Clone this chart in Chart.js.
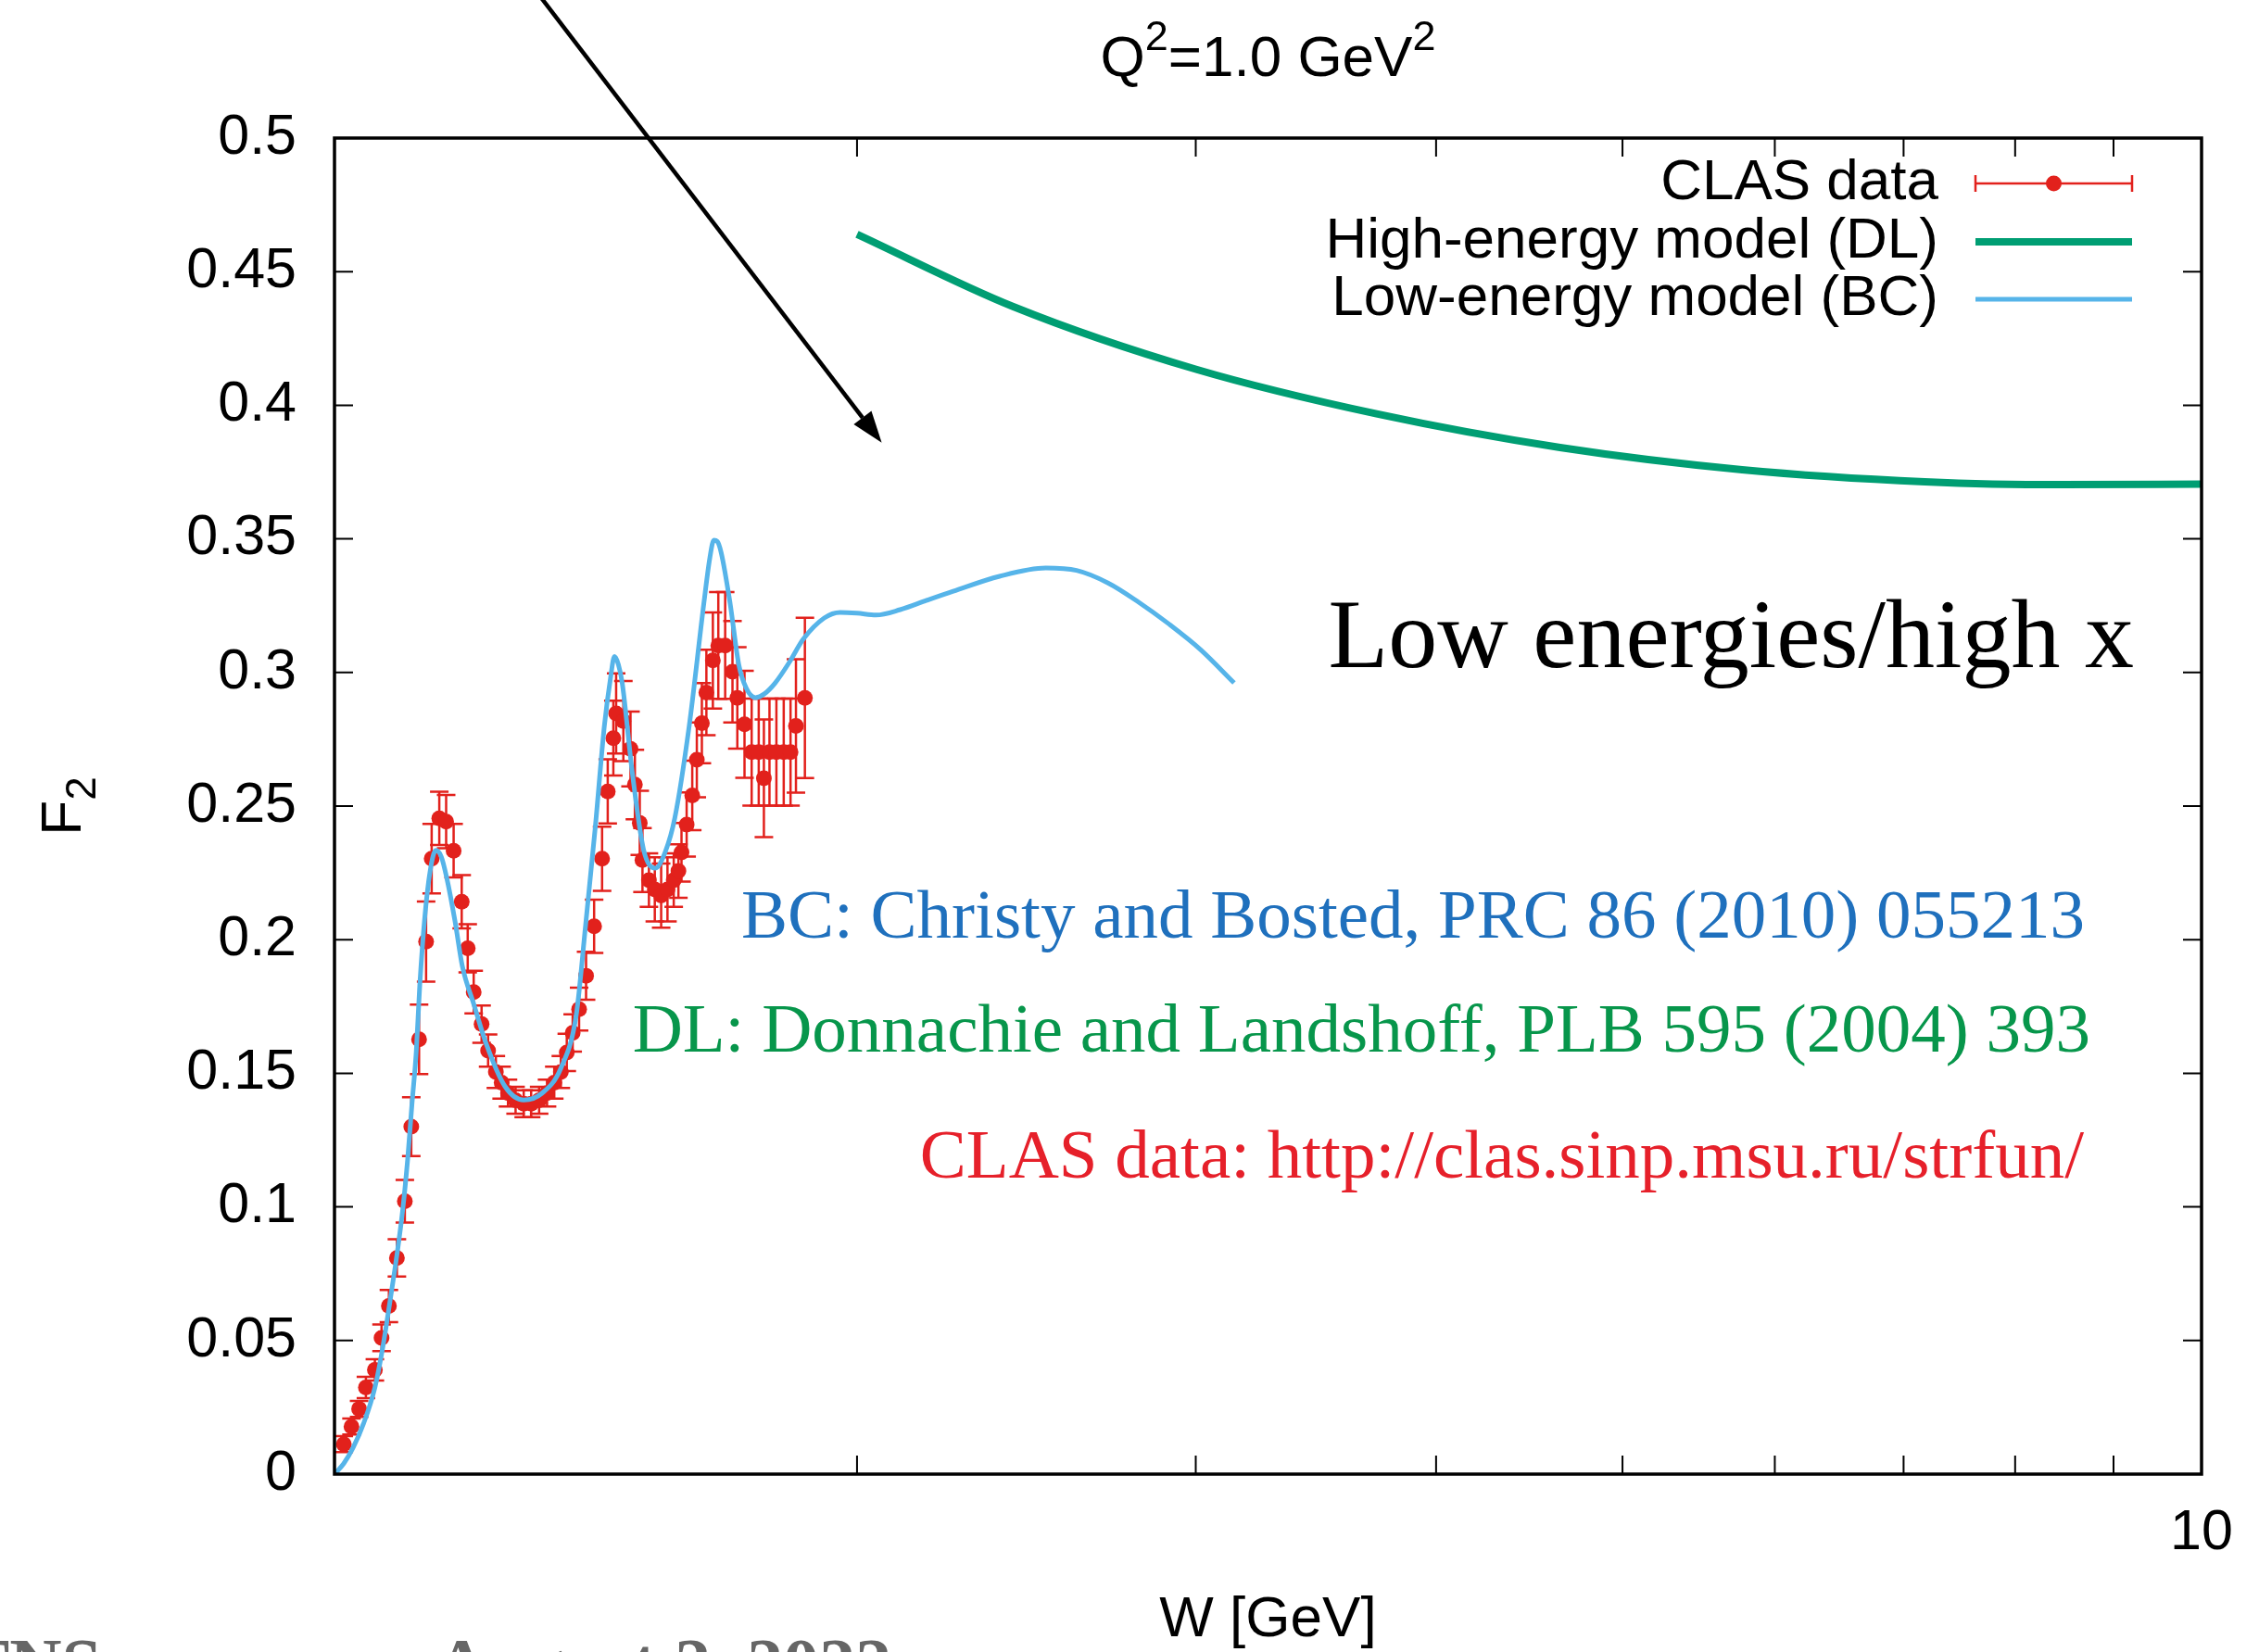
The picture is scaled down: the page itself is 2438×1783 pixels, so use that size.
<!DOCTYPE html>
<html>
<head>
<meta charset="utf-8">
<title>F2 at Q2 = 1.0 GeV2</title>
<script src="https://cdn.jsdelivr.net/npm/chart.js@4.4.0/dist/chart.umd.min.js"></script>
<style>
    html, body { margin: 0; padding: 0; background: #fff; }
    #wrap { position: relative; width: 2438px; height: 1783px; }
</style>
</head>
<body>
<div id="wrap">
    <canvas id="f2Chart" width="2438" height="1783"></canvas>
</div>
<script>
// Axis ticks
const xTicks = [2, 3, 4, 5, 6, 7, 8, 9, 10];
const xTickLabels = ['', '', '', '', '', '', '', '', '10'];
const yTicks = [0, 0.05, 0.1, 0.15, 0.2, 0.25, 0.3, 0.35, 0.4, 0.45, 0.5];
const yTickLabels = ['0', '0.05', '0.1', '0.15', '0.2', '0.25', '0.3', '0.35', '0.4', '0.45', '0.5'];

// CLAS data: W [GeV], F2 and its error
const clasW = [1.082, 1.092, 1.102, 1.111, 1.123, 1.132, 1.142, 1.153, 1.164, 1.173, 1.184, 1.194,
    1.202, 1.213, 1.223, 1.234, 1.246, 1.255, 1.264, 1.276, 1.286, 1.298, 1.307, 1.317,
    1.329, 1.342, 1.354, 1.367, 1.380, 1.392, 1.403, 1.413, 1.423, 1.434, 1.446, 1.460,
    1.474, 1.484, 1.494, 1.499, 1.512, 1.525, 1.533, 1.542, 1.547, 1.559, 1.570, 1.582,
    1.594, 1.606, 1.615, 1.621, 1.631, 1.642, 1.651, 1.661, 1.670, 1.683, 1.694, 1.708,
    1.723, 1.733, 1.748, 1.763, 1.778, 1.789, 1.801, 1.816, 1.832, 1.847, 1.859, 1.879];
const clasF2 = [0.0112, 0.0178, 0.0244, 0.0324, 0.039, 0.051, 0.0629, 0.0809, 0.1021, 0.130, 0.1627, 0.1993,
    0.2303, 0.2454, 0.2442, 0.2333, 0.2142, 0.1968, 0.1804, 0.1684, 0.1585, 0.1505, 0.1465, 0.1426,
    0.1399, 0.1386, 0.1386, 0.1399, 0.1426, 0.1465, 0.1505, 0.1578, 0.1651, 0.1740, 0.1865, 0.205,
    0.2303, 0.2555, 0.2754, 0.2847, 0.2818, 0.2714, 0.2581, 0.2437, 0.2298, 0.2223, 0.2188, 0.2165,
    0.2188, 0.2223, 0.2257, 0.2327, 0.2431, 0.254, 0.2673, 0.281, 0.2925, 0.3045, 0.3101, 0.3101,
    0.3003, 0.2905, 0.2806, 0.2702, 0.2702, 0.2604, 0.2702, 0.2702, 0.2702, 0.2702, 0.28, 0.2905];
const clasErr = [0.003, 0.003, 0.003, 0.004, 0.004, 0.005, 0.006, 0.007, 0.008, 0.011, 0.013, 0.015,
    0.013, 0.010, 0.010, 0.010, 0.010, 0.009, 0.008, 0.007, 0.006, 0.006, 0.006, 0.005,
    0.005, 0.005, 0.005, 0.005, 0.005, 0.006, 0.006, 0.007, 0.007, 0.008, 0.009, 0.010,
    0.012, 0.012, 0.014, 0.015, 0.015, 0.014, 0.013, 0.012, 0.012, 0.010, 0.012, 0.012,
    0.012, 0.010, 0.010, 0.011, 0.012, 0.013, 0.014, 0.015, 0.016, 0.018, 0.020, 0.020,
    0.019, 0.019, 0.020, 0.020, 0.020, 0.022, 0.020, 0.020, 0.020, 0.020, 0.025, 0.030];

// Low-energy model (BC)
const bcW = [1.07, 1.082, 1.094, 1.108, 1.123, 1.134, 1.144, 1.153, 1.161, 1.168, 1.174, 1.180,
    1.185, 1.192, 1.200, 1.208, 1.216, 1.224, 1.236, 1.247, 1.264, 1.283, 1.312, 1.342,
    1.372, 1.403, 1.429, 1.445, 1.462, 1.478, 1.489, 1.496, 1.503, 1.510, 1.528, 1.549,
    1.571, 1.590, 1.608, 1.636, 1.665, 1.677, 1.685, 1.692, 1.700, 1.718, 1.736, 1.752,
    1.771, 1.790, 1.813, 1.845, 1.875, 1.923, 1.960, 2.000, 2.046, 2.106, 2.174, 2.244,
    2.372, 2.507, 2.601, 2.701, 2.802, 2.907, 3.018, 3.141];
const bcF2 = [0, 0.004, 0.0098, 0.019, 0.0324, 0.048, 0.0656, 0.082, 0.0988, 0.118, 0.1386, 0.158,
    0.183, 0.208, 0.226, 0.2334, 0.231, 0.223, 0.207, 0.190, 0.176, 0.1611, 0.1452, 0.140,
    0.1426, 0.1519, 0.1717, 0.205, 0.242, 0.280, 0.298, 0.306, 0.303, 0.296, 0.263, 0.2337,
    0.2268, 0.233, 0.2455, 0.280, 0.326, 0.343, 0.3495, 0.349, 0.3447, 0.326, 0.303, 0.294,
    0.2906, 0.292, 0.296, 0.304, 0.3124, 0.3204, 0.3225, 0.3222, 0.3215, 0.3235, 0.327, 0.3304,
    0.336, 0.3391, 0.3382, 0.3335, 0.3263, 0.3180, 0.3085, 0.2961];

// High-energy model (DL)
const dlW = [2.0, 2.41, 3.0, 3.73, 4.64, 5.77, 7.18, 8.45, 10.0];
const dlF2 = [0.464, 0.437, 0.4135, 0.3967, 0.3842, 0.3759, 0.3714, 0.3703, 0.3705];

const RED = '#e2211c';
const GREEN = '#009e73';
const BLUE = '#56b4e9';
const SANS = '"Liberation Sans", Arial, sans-serif';
const SERIF = '"Liberation Serif", "Times New Roman", serif';

const toPoints = (xs, ys) => xs.map((v, i) => ({ x: v, y: ys[i] }));

// Error bars under the CLAS points
const errorBars = {
    id: 'errorBars',
    beforeDatasetsDraw(chart) {
        const { ctx, chartArea: a, scales: { x, y } } = chart;
        ctx.save();
        ctx.beginPath();
        ctx.rect(a.left, a.top, a.right - a.left, a.bottom - a.top);
        ctx.clip();
        ctx.strokeStyle = RED;
        ctx.lineWidth = 2.5;
        clasW.forEach((w, i) => {
            const px = x.getPixelForValue(w);
            const lo = y.getPixelForValue(clasF2[i] - clasErr[i]);
            const hi = y.getPixelForValue(clasF2[i] + clasErr[i]);
            ctx.beginPath();
            ctx.moveTo(px, lo); ctx.lineTo(px, hi);
            ctx.moveTo(px - 10, lo); ctx.lineTo(px + 10, lo);
            ctx.moveTo(px - 10, hi); ctx.lineTo(px + 10, hi);
            ctx.stroke();
        });
        ctx.restore();
    }
};

// Border box with inward ticks mirrored on all sides
const frame = {
    id: 'frame',
    afterDatasetsDraw(chart) {
        const { ctx, chartArea: a, scales: { x, y } } = chart;
        const len = 20;
        ctx.save();
        ctx.strokeStyle = '#000';
        ctx.lineWidth = 2;
        ctx.beginPath();
        x.ticks.forEach(t => {
            const px = x.getPixelForValue(t.value);
            ctx.moveTo(px, a.bottom); ctx.lineTo(px, a.bottom - len);
            ctx.moveTo(px, a.top); ctx.lineTo(px, a.top + len);
        });
        y.ticks.forEach(t => {
            const py = y.getPixelForValue(t.value);
            ctx.moveTo(a.left, py); ctx.lineTo(a.left + len, py);
            ctx.moveTo(a.right, py); ctx.lineTo(a.right - len, py);
        });
        ctx.stroke();
        ctx.lineWidth = 3.5;
        ctx.strokeRect(a.left, a.top, a.right - a.left, a.bottom - a.top);
        ctx.restore();
    }
};

// draws text pieces one after another (super/subscripts via dy), returns width
function runText(ctx, parts, x, y) {
    let cx = x;
    parts.forEach(p => {
        ctx.font = p.font;
        ctx.fillText(p.text, cx, y + (p.dy || 0));
        cx += ctx.measureText(p.text).width;
    });
    return cx - x;
}
function runWidth(ctx, parts) {
    return parts.reduce((s, p) => { ctx.font = p.font; return s + ctx.measureText(p.text).width; }, 0);
}

// Title, axis titles, key, annotations
const decor = {
    id: 'decor',
    afterDraw(chart) {
        const { ctx, chartArea: a, scales: { x, y } } = chart;
        const big = '62px ' + SANS;
        const small = '45px ' + SANS;
        ctx.save();
        ctx.fillStyle = '#000';
        ctx.textAlign = 'left';
        ctx.textBaseline = 'alphabetic';

        // title
        const title = [
            { text: 'Q', font: big }, { text: '2', font: small, dy: -28 },
            { text: '=1.0 GeV', font: big }, { text: '2', font: small, dy: -28 }
        ];
        const cx = (a.left + a.right) / 2;
        runText(ctx, title, cx - runWidth(ctx, title) / 2, 82);

        // x axis title
        ctx.font = big;
        ctx.textAlign = 'center';
        ctx.fillText('W [GeV]', cx, 1766);

        // y axis title
        ctx.save();
        ctx.translate(87, (a.top + a.bottom) / 2);
        ctx.rotate(-Math.PI / 2);
        ctx.textAlign = 'left';
        const yTitle = [{ text: 'F', font: big }, { text: '2', font: '46px ' + SANS, dy: 16 }];
        runText(ctx, yTitle, -runWidth(ctx, yTitle) / 2, 0);
        ctx.restore();

        // key
        const keyText = 2092, k0 = 2132, k1 = 2301;
        const rows = [198, 261, 323];
        ctx.font = big;
        ctx.textAlign = 'right';
        ctx.textBaseline = 'middle';
        ctx.fillText('CLAS data', keyText, rows[0]);
        ctx.fillText('High-energy model (DL)', keyText, rows[1]);
        ctx.fillText('Low-energy model (BC)', keyText, rows[2]);

        ctx.strokeStyle = RED;
        ctx.lineWidth = 2.5;
        ctx.beginPath();
        ctx.moveTo(k0, rows[0]); ctx.lineTo(k1, rows[0]);
        ctx.moveTo(k0, rows[0] - 9); ctx.lineTo(k0, rows[0] + 9);
        ctx.moveTo(k1, rows[0] - 9); ctx.lineTo(k1, rows[0] + 9);
        ctx.stroke();
        ctx.fillStyle = RED;
        ctx.beginPath();
        ctx.arc((k0 + k1) / 2, rows[0], 8.5, 0, Math.PI * 2);
        ctx.fill();

        ctx.lineWidth = 8;
        ctx.strokeStyle = GREEN;
        ctx.beginPath(); ctx.moveTo(k0, rows[1]); ctx.lineTo(k1, rows[1]); ctx.stroke();
        ctx.lineWidth = 5;
        ctx.strokeStyle = BLUE;
        ctx.beginPath(); ctx.moveTo(k0, rows[2]); ctx.lineTo(k1, rows[2]); ctx.stroke();

        // annotations
        ctx.textBaseline = 'alphabetic';
        ctx.textAlign = 'right';
        ctx.fillStyle = '#000';
        ctx.font = '106px ' + SERIF;
        ctx.fillText('Low energies/high x', 2303, 720);
        ctx.font = '75px ' + SERIF;
        ctx.fillStyle = '#1f70bd';
        ctx.fillText('BC: Christy and Bosted, PRC 86 (2010) 055213', 2250, 1012);
        ctx.fillStyle = '#07964b';
        ctx.fillText('DL: Donnachie and Landshoff, PLB 595 (2004) 393', 2256, 1135);
        ctx.fillStyle = '#e6202a';
        ctx.fillText('CLAS data: http://clas.sinp.msu.ru/strfun/', 2249, 1271);

        // arrow pointing into the gap between the two models
        const tx = x.getPixelForValue(2.06), ty = y.getPixelForValue(0.386);
        const sx = x.getPixelForValue(1.362), sy = y.getPixelForValue(0.555);
        const ang = Math.atan2(ty - sy, tx - sx);
        const headLen = 34, headHalf = 12;
        const bx = tx - headLen * Math.cos(ang), by = ty - headLen * Math.sin(ang);
        ctx.strokeStyle = '#000';
        ctx.fillStyle = '#000';
        ctx.lineWidth = 4.5;
        ctx.beginPath(); ctx.moveTo(sx, sy); ctx.lineTo(bx, by); ctx.stroke();
        ctx.beginPath();
        ctx.moveTo(tx, ty);
        ctx.lineTo(bx + headHalf * Math.sin(ang), by - headHalf * Math.cos(ang));
        ctx.lineTo(bx - headHalf * Math.sin(ang), by + headHalf * Math.cos(ang));
        ctx.closePath();
        ctx.fill();

        // slide footer, cut by the bottom edge
        ctx.fillStyle = '#666';
        ctx.font = 'bold 78px ' + SERIF;
        ctx.textAlign = 'right';
        ctx.fillText('TNS', 110, 1822);
        ctx.textAlign = 'left';
        ctx.fillText('August 2, 2022', 470, 1822);
        ctx.restore();
    }
};

const ctx = document.getElementById('f2Chart');

new Chart(ctx, {
    type: 'scatter',
    data: {
        datasets: [
            {
                label: 'CLAS data',
                data: toPoints(clasW, clasF2),
                backgroundColor: RED,
                borderWidth: 0,
                pointRadius: 8.5,
                showLine: false,
                order: 3
            },
            {
                label: 'High-energy model (DL)',
                data: toPoints(dlW, dlF2),
                showLine: true,
                borderColor: GREEN,
                borderWidth: 8,
                pointRadius: 0,
                cubicInterpolationMode: 'monotone',
                order: 2
            },
            {
                label: 'Low-energy model (BC)',
                data: toPoints(bcW, bcF2),
                showLine: true,
                borderColor: BLUE,
                borderWidth: 5,
                pointRadius: 0,
                cubicInterpolationMode: 'monotone',
                order: 1
            }
        ]
    },
    options: {
        responsive: false,
        devicePixelRatio: 1,
        animation: false,
        events: [],
        layout: { padding: { top: 149, right: 62, left: 0, bottom: 0 } },
        plugins: {
            legend: { display: false },
            tooltip: { enabled: false },
            title: { display: false }
        },
        scales: {
            x: {
                type: 'logarithmic',
                min: 1.07,
                max: 10,
                afterBuildTicks: s => { s.ticks = xTicks.map(v => ({ value: v })); },
                afterFit: s => { s.height = 1783 - 1591; },
                grid: { display: false, drawTicks: false, tickLength: 0 },
                border: { display: false },
                ticks: {
                    autoSkip: false,
                    maxRotation: 0,
                    padding: 28,
                    color: '#000',
                    font: { family: SANS, size: 61 },
                    callback: (v, i) => xTickLabels[i]
                }
            },
            y: {
                type: 'linear',
                min: 0,
                max: 0.5,
                afterBuildTicks: s => { s.ticks = yTicks.map(v => ({ value: v })); },
                afterFit: s => { s.width = 361; },
                grid: { display: false, drawTicks: false, tickLength: 0 },
                border: { display: false },
                ticks: {
                    autoSkip: false,
                    padding: 41,
                    color: '#000',
                    font: { family: SANS, size: 61 },
                    callback: (v, i) => yTickLabels[i]
                }
            }
        }
    },
    plugins: [errorBars, frame, decor]
});
</script>
</body>
</html>
